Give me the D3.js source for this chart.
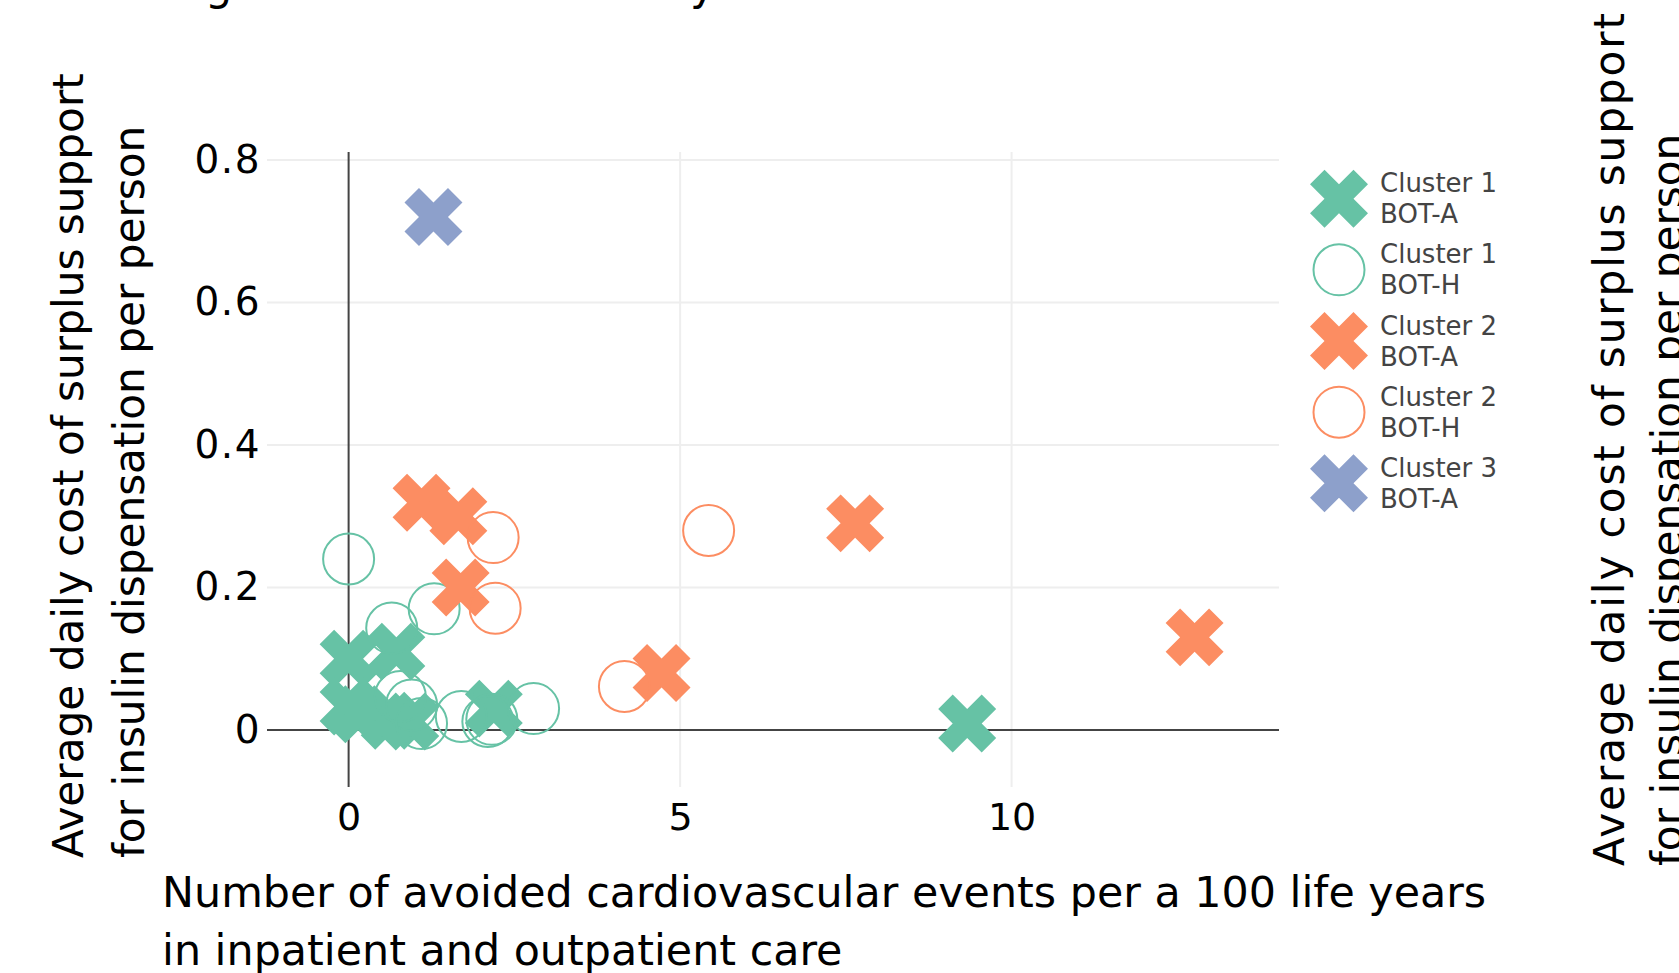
<!DOCTYPE html>
<html>
<head>
<meta charset="utf-8">
<script src="https://cdn.jsdelivr.net/npm/d3@7"></script>
<style>
  body { margin: 0; background: #fff; }
  svg { display: block; font-family: "DejaVu Sans", Verdana, sans-serif; }
</style>
</head>
<body>
<script>
// ---- data ----
var seriesNames = ["Cluster 1|BOT-A", "Cluster 1|BOT-H", "Cluster 2|BOT-A", "Cluster 2|BOT-H", "Cluster 3|BOT-A"];
var seriesColors = ["#66c2a5", "#66c2a5", "#fc8d62", "#fc8d62", "#8da0cb"];
var seriesSymbols = ["x", "circle", "x", "circle", "x"];

var c1aX = [0.0, 0.72, 0.0, 0.17, 0.62, 0.93, 2.19, 9.33];
var c1aY = [0.10, 0.11, 0.033, 0.022, 0.013, 0.012, 0.030, 0.009];
var c1hX = [0.0, 1.29, 0.65, 0.78, 0.95, 1.10, 1.70, 2.10, 2.16, 2.79];
var c1hY = [0.24, 0.17, 0.143, 0.047, 0.035, 0.009, 0.019, 0.012, 0.015, 0.030];
var c2aX = [1.10, 1.655, 1.69, 4.72, 7.64, 12.76];
var c2aY = [0.319, 0.30, 0.20, 0.080, 0.29, 0.13];
var c2hX = [2.18, 2.21, 5.43, 4.16];
var c2hY = [0.27, 0.171, 0.28, 0.061];
var c3aX = [1.28];
var c3aY = [0.72];

var xTicks = [0, 5, 10];
var yTicks = [0, 0.2, 0.4, 0.6, 0.8];
var xTitle = ["Number of avoided cardiovascular events per a 100 life years", "in inpatient and outpatient care"];
var yTitle = ["Average daily cost of surplus support", "for insulin dispensation per person"];

var seriesX = [c1aX, c1hX, c2aX, c2hX, c3aX];
var seriesY = [c1aY, c1hY, c2aY, c2hY, c3aY];

// ---- layout ----
var width = 1679, height = 973;
var plotLeft = 267, plotRight = 1279, plotTop = 152, plotBottom = 787;

var svg = d3.select("body").append("svg").attr("width", width).attr("height", height);

var xScale = d3.scaleLinear().domain([-1.231, 14.033]).range([plotLeft, plotRight]);
var yScale = d3.scaleLinear().domain([-0.08, 0.8112]).range([plotBottom, plotTop]);

// grid lines
svg.append("g").selectAll("line").data(xTicks.filter(function (d) { return d !== 0; })).enter().append("line")
  .attr("x1", function (d) { return xScale(d); }).attr("x2", function (d) { return xScale(d); })
  .attr("y1", plotTop).attr("y2", plotBottom)
  .attr("stroke", "#eeeeee").attr("stroke-width", 2);
svg.append("g").selectAll("line").data(yTicks.filter(function (d) { return d !== 0; })).enter().append("line")
  .attr("y1", function (d) { return yScale(d); }).attr("y2", function (d) { return yScale(d); })
  .attr("x1", plotLeft).attr("x2", plotRight)
  .attr("stroke", "#eeeeee").attr("stroke-width", 2);

// zero lines
svg.append("line").attr("x1", xScale(0)).attr("x2", xScale(0)).attr("y1", plotTop).attr("y2", plotBottom)
  .attr("stroke", "#444").attr("stroke-width", 2);
svg.append("line").attr("y1", yScale(0)).attr("y2", yScale(0)).attr("x1", plotLeft).attr("x2", plotRight)
  .attr("stroke", "#444").attr("stroke-width", 2);

// axes (labels only)
var yAxis = d3.axisLeft(yScale).tickValues(yTicks).tickSize(0).tickPadding(6)
  .tickFormat(function (d) { return d === 0 ? "0" : d3.format(".1f")(d); });
var gy = svg.append("g").attr("transform", "translate(" + plotLeft + ",0)").call(yAxis);
gy.select(".domain").remove();
gy.selectAll("text").attr("font-size", 39).attr("letter-spacing", 1.5).attr("fill", "#000")
  .attr("font-family", "DejaVu Sans, Verdana, sans-serif");

var xAxis = d3.axisBottom(xScale).tickValues(xTicks).tickSize(0).tickFormat(d3.format("d"));
var gx = svg.append("g").attr("transform", "translate(0," + plotBottom + ")").call(xAxis);
gx.select(".domain").remove();
gx.selectAll("text").attr("font-size", 38).attr("fill", "#000").attr("font-family", "DejaVu Sans, Verdana, sans-serif")
  .attr("y", 43).attr("dy", 0);

// markers
var crossPath = d3.symbol().type(d3.symbolCross).size(2101)();

seriesNames.forEach(function (name, s) {
  var pts = seriesX[s].map(function (x, i) { return [x, seriesY[s][i]]; });
  var g = svg.append("g").attr("class", "trace");
  var m = g.selectAll("g").data(pts).enter().append("g")
    .attr("transform", function (d) { return "translate(" + xScale(d[0]) + "," + yScale(d[1]) + ")"; });
  if (seriesSymbols[s] === "x") {
    m.append("path").attr("d", crossPath).attr("transform", "rotate(45)").attr("fill", seriesColors[s]);
  } else {
    m.append("circle").attr("r", 25.5).attr("fill", "none").attr("stroke", seriesColors[s]).attr("stroke-width", 2);
  }
});

// legend
var legend = svg.append("g").attr("transform", "translate(1339,198.7)");
seriesNames.forEach(function (name, s) {
  var item = legend.append("g").attr("transform", "translate(0," + (s * 71.15) + ")");
  if (seriesSymbols[s] === "x") {
    item.append("path").attr("d", crossPath).attr("transform", "rotate(45)").attr("fill", seriesColors[s]);
  } else {
    item.append("circle").attr("r", 25.5).attr("fill", "none").attr("stroke", seriesColors[s]).attr("stroke-width", 2);
  }
  name.split("|").forEach(function (t, k) {
    item.append("text").attr("x", 41).attr("y", -6.5 + k * 31).attr("font-size", 26).attr("fill", "#444").text(t);
  });
});

// axis titles
xTitle.forEach(function (t, k) {
  svg.append("text").attr("x", 162).attr("y", 907 + k * 58).attr("font-size", 42.8).attr("fill", "#000").text(t);
});
yTitle.forEach(function (t, k) {
  svg.append("text").attr("transform", "translate(" + (83 + k * 61) + ",858) rotate(-90)")
    .attr("font-size", 42.2).attr("fill", "#000").text(t);
});

// neighbouring panel's cut-off texts
svg.append("text").attr("transform", "translate(1624,866) rotate(-90)")
  .attr("font-size", 42.2).attr("fill", "#000").attr("textLength", 853).attr("lengthAdjust", "spacing").text(yTitle[0]);
svg.append("text").attr("transform", "translate(1682,866) rotate(-90)")
  .attr("font-size", 42.2).attr("fill", "#000").text(yTitle[1]);
svg.append("text").attr("x", 205).attr("y", 0).attr("font-size", 43).attr("fill", "#000").text("g");
svg.append("text").attr("x", 690).attr("y", 0).attr("font-size", 43).attr("fill", "#000").text("y");
</script>
</body>
</html>
